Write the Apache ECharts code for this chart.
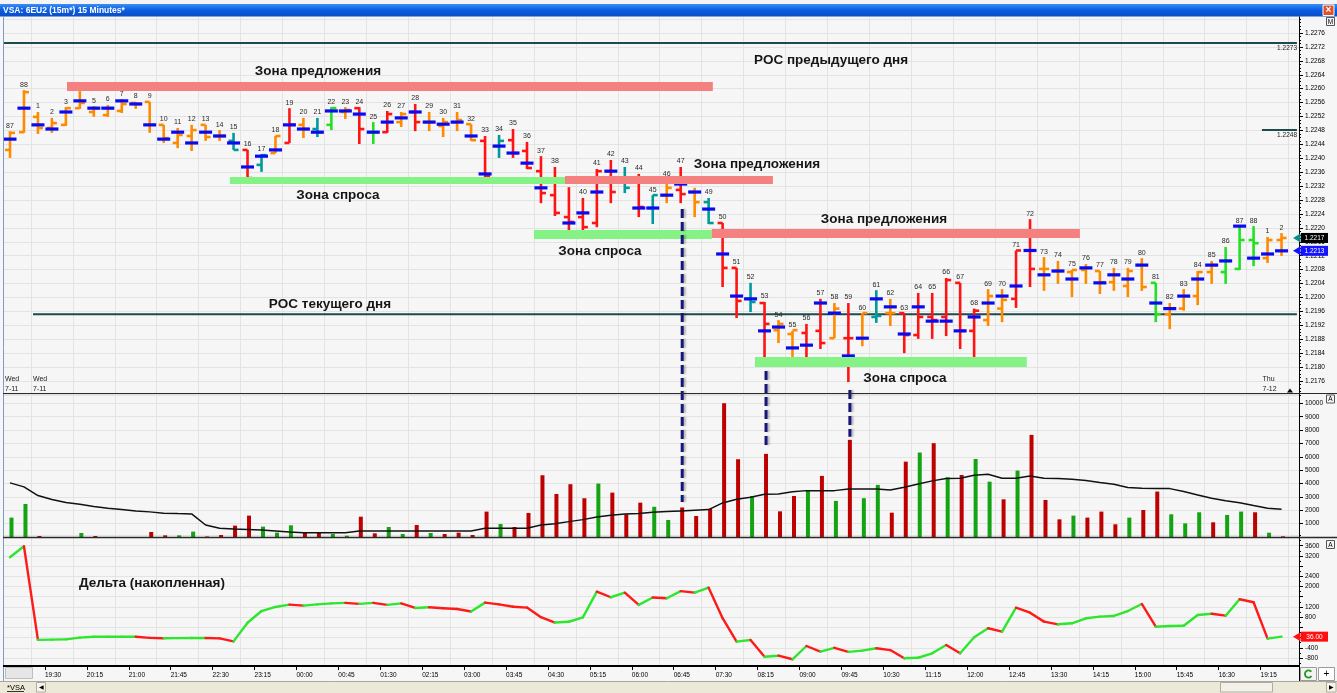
<!DOCTYPE html>
<html>
<head>
<meta charset="utf-8">
<title>VSA: 6EU2 (15m*) 15 Minutes*</title>
<script src="https://cdn.jsdelivr.net/npm/echarts@6/dist/echarts.min.js"></script>
<style>
  html, body { margin: 0; padding: 0; background: #f6f6f6; }
  #chart { width: 1337px; height: 693px; }
</style>
</head>
<body>
<div id="chart"></div>
<script>
// ---- 15-minute bars: session bar numbers, OHLC, per-bar point of control ----
const barNumbers = [87, 88, 1, 2, 3, 4, 5, 6, 7, 8, 9, 10, 11, 12, 13, 14, 15, 16, 17, 18, 19, 20,
  21, 22, 23, 24, 25, 26, 27, 28, 29, 30, 31, 32, 33, 34, 35, 36, 37, 38, 39, 40, 41, 42, 43, 44,
  45, 46, 47, 48, 49, 50, 51, 52, 53, 54, 55, 56, 57, 58, 59, 60, 61, 62, 63, 64, 65, 66, 67, 68,
  69, 70, 71, 72, 73, 74, 75, 76, 77, 78, 79, 80, 81, 82, 83, 84, 85, 86, 87, 88, 1, 2];

const opens = [1.22424, 1.22475, 1.22519, 1.22487, 1.22496, 1.22544, 1.22533, 1.22524, 1.22536, 1.22559,
  1.22562, 1.22496, 1.22444, 1.22464, 1.22496, 1.22464, 1.22450, 1.22424, 1.22381, 1.22415,
  1.22444, 1.22496, 1.22484, 1.22496, 1.22533, 1.22544, 1.22475, 1.22475, 1.22504, 1.22533,
  1.22504, 1.22493, 1.22504, 1.22498, 1.22450, 1.22435, 1.22452, 1.22421, 1.22363, 1.22294,
  1.22231, 1.22231, 1.22214, 1.22363, 1.22335, 1.22335, 1.22257, 1.22294, 1.22309, 1.22303,
  1.22274, 1.22214, 1.22085, 1.21996, 1.21984, 1.21906, 1.21895, 1.21898, 1.21904, 1.21883,
  1.21883, 1.21883, 1.21944, 1.21955, 1.21955, 1.21892, 1.21944, 1.21944, 1.22042, 1.21904,
  1.21935, 1.21968, 1.21996, 1.22135, 1.22082, 1.22076, 1.22073, 1.22079, 1.22076, 1.22044,
  1.22033, 1.22093, 1.22042, 1.21952, 1.21968, 1.22004, 1.22073, 1.22073, 1.22082, 1.22165,
  1.22113, 1.22165];

const highs = [1.22478, 1.22596, 1.22533, 1.22516, 1.22547, 1.22593, 1.22550, 1.22553, 1.22570, 1.22562,
  1.22562, 1.22496, 1.22487, 1.22496, 1.22496, 1.22481, 1.22473, 1.22424, 1.22412, 1.22464,
  1.22544, 1.22516, 1.22516, 1.22547, 1.22547, 1.22547, 1.22504, 1.22536, 1.22533, 1.22556,
  1.22533, 1.22516, 1.22533, 1.22498, 1.22464, 1.22467, 1.22484, 1.22447, 1.22406, 1.22375,
  1.22317, 1.22286, 1.22369, 1.22395, 1.22375, 1.22355, 1.22294, 1.22338, 1.22375, 1.22315,
  1.22286, 1.22214, 1.22085, 1.22042, 1.21987, 1.21935, 1.21904, 1.21924, 1.21996, 1.21984,
  1.21984, 1.21955, 1.22021, 1.21996, 1.21955, 1.22013, 1.22013, 1.22056, 1.22042, 1.21968,
  1.22024, 1.22024, 1.22135, 1.22225, 1.22116, 1.22105, 1.22079, 1.22096, 1.22076, 1.22085,
  1.22085, 1.22113, 1.22042, 1.21984, 1.22024, 1.22076, 1.22105, 1.22145, 1.22205, 1.22205,
  1.22174, 1.22185];

const lows = [1.22401, 1.22473, 1.22470, 1.22473, 1.22493, 1.22542, 1.22519, 1.22519, 1.22530, 1.22542,
  1.22473, 1.22444, 1.22429, 1.22421, 1.22450, 1.22450, 1.22424, 1.22329, 1.22361, 1.22415,
  1.22444, 1.22458, 1.22461, 1.22481, 1.22513, 1.22441, 1.22441, 1.22473, 1.22490, 1.22478,
  1.22478, 1.22461, 1.22478, 1.22450, 1.22340, 1.22401, 1.22401, 1.22369, 1.22271, 1.22234,
  1.22179, 1.22188, 1.22202, 1.22271, 1.22300, 1.22231, 1.22211, 1.22271, 1.22271, 1.22231,
  1.22211, 1.22030, 1.21941, 1.21958, 1.21820, 1.21869, 1.21812, 1.21812, 1.21852, 1.21883,
  1.21757, 1.21860, 1.21927, 1.21918, 1.21840, 1.21881, 1.21881, 1.21889, 1.21852, 1.21829,
  1.21918, 1.21929, 1.21970, 1.22030, 1.22019, 1.22039, 1.22001, 1.22039, 1.22010, 1.22019,
  1.22001, 1.22019, 1.21929, 1.21909, 1.21962, 1.21978, 1.22039, 1.22039, 1.22079, 1.22090,
  1.22099, 1.22119];

const closes = [1.22473, 1.22590, 1.22487, 1.22501, 1.22544, 1.22559, 1.22544, 1.22544, 1.22556, 1.22556,
  1.22496, 1.22458, 1.22467, 1.22481, 1.22461, 1.22464, 1.22424, 1.22343, 1.22409, 1.22464,
  1.22496, 1.22484, 1.22475, 1.22544, 1.22539, 1.22484, 1.22475, 1.22527, 1.22527, 1.22504,
  1.22504, 1.22504, 1.22510, 1.22452, 1.22349, 1.22450, 1.22415, 1.22372, 1.22300, 1.22243,
  1.22217, 1.22202, 1.22363, 1.22303, 1.22315, 1.22260, 1.22294, 1.22315, 1.22297, 1.22274,
  1.22214, 1.22085, 1.21990, 1.21987, 1.21924, 1.21924, 1.21906, 1.21815, 1.21869, 1.21968,
  1.21883, 1.21955, 1.21947, 1.21955, 1.21892, 1.21944, 1.21935, 1.22050, 1.21904, 1.21962,
  1.22004, 1.21993, 1.22135, 1.22082, 1.22082, 1.22076, 1.22079, 1.22085, 1.22044, 1.22065,
  1.22076, 1.22030, 1.21952, 1.21968, 1.22004, 1.22073, 1.22093, 1.22105, 1.22165, 1.22156,
  1.22165, 1.22171];

const pocs = [1.22455, 1.22544, 1.22496, 1.22484, 1.22533, 1.22565, 1.22544, 1.22544, 1.22565, 1.22556,
  1.22496, 1.22455, 1.22475, 1.22444, 1.22475, 1.22464, 1.22444, 1.22375, 1.22406, 1.22424,
  1.22496, 1.22484, 1.22475, 1.22536, 1.22536, 1.22527, 1.22475, 1.22504, 1.22516, 1.22533,
  1.22504, 1.22498, 1.22504, 1.22464, 1.22355, 1.22435, 1.22415, 1.22386, 1.22315, 1.22335,
  1.22214, 1.22243, 1.22303, 1.22363, 1.22335, 1.22257, 1.22257, 1.22294, 1.22326, 1.22303,
  1.22254, 1.22125, 1.22004, 1.21996, 1.21904, 1.21915, 1.21855, 1.21863, 1.21984, 1.21955,
  1.21832, 1.21883, 1.21996, 1.21973, 1.21895, 1.21973, 1.21932, 1.21932, 1.21904, 1.21944,
  1.21984, 1.22004, 1.22033, 1.22135, 1.22065, 1.22076, 1.22053, 1.22085, 1.22042, 1.22065,
  1.22053, 1.22093, 1.21984, 1.21968, 1.22004, 1.22053, 1.22093, 1.22105, 1.22205, 1.22113,
  1.22125, 1.22134];

// VSA bar classes: o = neutral, r = supply, g = demand, t = test
const barClasses = ['o','o','o','o','o','o','o','o','o','o','o','o','o','o','o','o',
  't','r','t','o','r','o','t','g','o','r','g','r','o','r','o','o','o','o','r','t','r','r','r','r',
  'r','r','r','r','t','r','t','o','r','o','t','r','r','t','r','o','o','r','r','o','r','o','t','o',
  'r','r','r','r','r','r','o','o','r','r','o','o','o','o','o','o','o','o','g','o','o','o','o','g',
  'g','g','o','o'];

// ---- volume pane ----
const volumes = [1450, 2470, 75, 0, 0, 300, 75, 0, 0, 0, 375, 125, 125, 400, 40, 150, 850, 1600,
  775, 325, 875, 300, 325, 225, 100, 1520, 275, 750, 225, 900, 300, 225, 325, 150, 1900, 975, 750,
  1800, 4620, 3220, 3950, 2900, 4000, 3320, 1700, 2570, 2260, 1270, 2210, 1570, 2100, 10010, 5820,
  3070, 6220, 1920, 3070, 3450, 4570, 2700, 7270, 2900, 3900, 1820, 5640, 6320, 7020, 4470, 4640,
  5840, 4140, 2820, 4970, 7640, 2770, 1320, 1600, 1450, 1900, 950, 1450, 2020, 3400, 1700, 1020,
  1850, 1100, 1650, 1900, 1850, 320, 50];
const volumeSides = ['g','g','r','r','r','g','r','r','r','r','r','r','g','g','r','r','r','r','g','g',
  'g','r','r','g','g','r','r','g','g','r','g','r','r','r','r','g','r','r','r','r','r','r','g','r',
  'r','r','g','g','r','r','r','r','r','g','r','r','r','g','r','g','r','g','g','r','r','g','r','g',
  'r','g','g','r','g','r','r','r','g','r','r','r','g','r','r','g','g','g','r','g','g','r','g','r'];
const volumeAverage = [4050, 3750, 3100, 2800, 2580, 2450, 2280, 2150, 2050, 1950, 1880, 1780, 1750,
  1730, 900, 650, 600, 560, 520, 450, 380, 320, 320, 320, 320, 450, 450, 450, 450, 450, 450, 450,
  450, 450, 650, 650, 650, 650, 900, 1000, 1150, 1300, 1500, 1620, 1720, 1750, 1850, 1900, 1950,
  2000, 2050, 2550, 2820, 2970, 3200, 3220, 3380, 3470, 3470, 3470, 3600, 3600, 3600, 3520, 3720,
  3970, 4200, 4370, 4400, 4620, 4700, 4400, 4400, 4570, 4400, 4380, 4320, 4220, 4070, 3950, 3700,
  3650, 3620, 3620, 3400, 3150, 2900, 2720, 2570, 2350, 2150, 2070];

// ---- cumulative delta pane ----
const cumulativeDelta = [3150, 3580, -90, -80, -70, 0, 35, 35, 35, 35, -10, -27, -20, -16, -16, -30,
  -150, 580, 1040, 1200, 1290, 1250, 1300, 1340, 1360, 1320, 1360, 1280, 1340, 1160, 1190, 1150,
  1120, 1020, 1370, 1300, 1210, 1175, 800, 590, 620, 790, 1800, 1580, 1760, 1280, 1570, 1540, 1820,
  1760, 1955, 760, -160, -94, -750, -710, -850, -330, -550, -400, -560, -510, -420, -490, -810,
  -790, -615, -290, -615, 10, 365, 230, 1170, 975, 625, 520, 560, 756, 820, 846, 1040, 1316, 427,
  454, 466, 885, 936, 858, 1500, 1383, -40, 36];

// ---- time axis tick labels (every third bar, from the 19:30 bar) ----
const timeTicks = ['19:30', '20:15', '21:00', '21:45', '22:30', '23:15', '00:00', '00:45', '01:30',
  '02:15', '03:00', '03:45', '04:30', '05:15', '06:00', '06:45', '07:30', '08:15', '09:00', '09:45',
  '10:30', '11:15', '12:00', '12:45', '13:30', '14:15', '15:00', '15:45', '16:30', '19:15'];
const sessionStarts = [
  { bar: -0.5, day: 'Wed', date: '7-11' },
  { bar: 1.5, day: 'Wed', date: '7-11' },
  { bar: 89.5, day: 'Thu', date: '7-12' }
];

// ---- hand-drawn annotations (bar index / price bounds) ----
const zones = [
  { kind: 'supply', from: 4.08, to: 50.3, hi: 1.22619, lo: 1.22593 },
  { kind: 'demand', from: 15.74, to: 39.72, hi: 1.22346, lo: 1.22326 },
  { kind: 'supply', from: 39.72, to: 54.6, hi: 1.22349, lo: 1.22326 },
  { kind: 'demand', from: 37.5, to: 50.23, hi: 1.22194, lo: 1.22168 },
  { kind: 'supply', from: 50.23, to: 76.57, hi: 1.22197, lo: 1.22171 },
  { kind: 'demand', from: 53.31, to: 72.77, hi: 1.21829, lo: 1.21800 }
];
const priceLevels = [
  { price: 1.22731, from: -0.5, to: 92.1, tag: '1.2273' },
  { price: 1.21952, from: 1.65, to: 92.1, tag: '' },
  { price: 1.22481, from: 89.6, to: 92.1, tag: '1.2248' }
];
const notes = [
  { pane: 0, text: 'Зона предложения', at: [22.04, 1.22651] },
  { pane: 0, text: 'Зона спроса', at: [23.47, 1.22294] },
  { pane: 0, text: 'Зона предложения', at: [53.46, 1.22384] },
  { pane: 0, text: 'Зона спроса', at: [42.22, 1.22133] },
  { pane: 0, text: 'Зона предложения', at: [62.55, 1.22225] },
  { pane: 0, text: 'Зона спроса', at: [64.05, 1.21768] },
  { pane: 0, text: 'POC предыдущего дня', at: [58.76, 1.22682] },
  { pane: 0, text: 'POC текущего дня', at: [22.9, 1.21981] },
  { pane: 2, text: 'Дельта (накопленная)', at: [10.16, 2139] }
];
const volumeLinks = [
  { bar: 48, price: 1.22254, volume: 2620 },
  { bar: 54, price: 1.21789, volume: 6720 },
  { bar: 60, price: 1.21734, volume: 7510 }
];

// ---- styling ----
const FONT = '"Liberation Sans", Arial, sans-serif';
const CLASS_COLORS = { o: '#ff8a00', r: '#ff1414', g: '#22e022', t: '#009a9a' };
const VOLUME_COLORS = { g: '#13a313', r: '#bd0000' };
const ZONE_COLORS = { supply: '#f48080', demand: '#84f284' };
const GRID_COLOR = '#e3e3e3';
const X_MIN = -0.5, X_MAX = 92.25;

const chart = echarts.init(document.getElementById('chart'), null, { renderer: 'canvas', width: 1337, height: 693 });

function hiddenX(gridIndex) {
  return { type: 'value', gridIndex, min: X_MIN, max: X_MAX, show: false,
    axisLine: { onZero: false }, splitLine: { show: false } };
}
function rightAxisBase(gridIndex) {
  return {
    type: 'value', gridIndex, position: 'right',
    axisLine: { show: true, onZero: false, lineStyle: { color: '#000', width: 1 } },
    axisTick: { show: true, length: 4, lineStyle: { color: '#000' } },
    minorTick: { show: false },
    axisLabel: { fontSize: 6.5, color: '#000', margin: 6, fontFamily: FONT },
    splitLine: { show: true, lineStyle: { color: GRID_COLOR, width: 1 } }
  };
}
// finer tick marks only (no labels, no grid lines) sharing a pane's value range
function fineTicks(gridIndex, min, max, interval) {
  return {
    type: 'value', gridIndex, position: 'right', min, max, interval,
    axisLine: { show: false, onZero: false },
    axisTick: { show: true, length: 2, lineStyle: { color: '#000' } },
    axisLabel: { show: false },
    splitLine: { show: false }
  };
}

const barData = barNumbers.map((n, i) => [i, opens[i], highs[i], lows[i], closes[i], pocs[i]]);
const volumeData = volumes.map((v, i) => [i, v]);
const averageData = volumeAverage.map((v, i) => [i, v]);
const deltaData = cumulativeDelta.map((v, i) => [i, v, i > 0 ? cumulativeDelta[i - 1] : v]);
const zoneData = zones.map(z => [z.from, z.to, z.hi, z.lo]);
const levelData = priceLevels.map(l => [l.from, l.to, l.price]);

const option = {
  animation: false,
  backgroundColor: '#f6f6f6',
  textStyle: { fontFamily: FONT },
  grid: [
    { left: 3, top: 19.08, width: 1296, height: 375.82, outerBoundsMode: 'none' },
    { left: 3, top: 394, width: 1296, height: 143, outerBoundsMode: 'none' },
    { left: 3, top: 535.5, width: 1296, height: 132.7, outerBoundsMode: 'none' },
    { left: 3, top: 665, width: 1296, height: 1, outerBoundsMode: 'none' },
    { left: 3 - 1296 / (X_MAX - X_MIN), top: 17, width: 1296 + 1296 / (X_MAX - X_MIN), height: 649, outerBoundsMode: 'none' }
  ],
  xAxis: [
    hiddenX(0), hiddenX(1), hiddenX(2),
    {
      type: 'value', gridIndex: 3, min: X_MIN, max: X_MAX, interval: 3, position: 'bottom', z: 6,
      axisLine: { show: false, onZero: false },
      axisTick: { show: true, length: 4, lineStyle: { color: '#000' } },
      splitLine: { show: false },
      axisLabel: {
        show: true, align: 'left', margin: 6, fontSize: 6.5, color: '#000', fontFamily: FONT,
        showMaxLabel: false,
        formatter: v => {
          const k = Math.round(v + 0.5);
          if (k <= 0 || k % 3 !== 0) return '';
          return timeTicks[k / 3 - 1] || '';
        }
      }
    },
    {
      type: 'value', gridIndex: 4, min: X_MIN - 1, max: X_MAX, interval: 3,
      axisLine: { show: false, onZero: false }, axisTick: { show: false }, axisLabel: { show: false },
      splitLine: { show: true, lineStyle: { color: GRID_COLOR, width: 1 } }
    }
  ],
  yAxis: [
    Object.assign(rightAxisBase(0), {
      min: 1.2172, max: 1.2280, interval: 0.0004,
      axisLabel: {
        fontSize: 6.5, color: '#000', margin: 6, fontFamily: FONT, showMinLabel: false, showMaxLabel: false,
        formatter: v => (v > 1.22775 || v < 1.21745) ? '' : v.toFixed(4)
      }
    }),
    Object.assign(rightAxisBase(1), {
      min: 0, max: 10700, interval: 1000,
      axisLabel: {
        fontSize: 6.5, color: '#000', margin: 6, fontFamily: FONT, showMaxLabel: false,
        formatter: v => (v > 0 && v <= 10000) ? String(v) : ''
      }
    }),
    Object.assign(rightAxisBase(2), {
      min: -1200, max: 4000, interval: 400,
      axisLabel: {
        fontSize: 6.5, color: '#000', margin: 6, fontFamily: FONT, showMinLabel: false, showMaxLabel: false,
        formatter: v => [3600, 3200, 2400, 2000, 1200, 800, -400, -800].includes(Math.round(v)) ? String(Math.round(v)) : ''
      }
    }),
    { type: 'value', gridIndex: 3, min: 0, max: 1, show: false, axisLine: { onZero: false }, splitLine: { show: false } },
    { type: 'value', gridIndex: 4, min: 0, max: 1, show: false, axisLine: { onZero: false }, splitLine: { show: false } },
    fineTicks(0, 1.2172, 1.2280, 0.0001),
    fineTicks(2, -1200, 4000, 200)
  ],
  series: [
    {
      // day POC levels
      type: 'custom', name: 'levels', xAxisIndex: 0, yAxisIndex: 0, z: 3, silent: true,
      data: levelData,
      renderItem: (params, api) => {
        const a = api.coord([api.value(0), api.value(2)]);
        const b = api.coord([api.value(1), api.value(2)]);
        return { type: 'line', shape: { x1: a[0], y1: a[1], x2: b[0], y2: b[1] },
          style: { stroke: '#1d4a4a', lineWidth: 2 } };
      }
    },
    {
      // OHLC bars with per-bar POC dash and session bar number
      type: 'custom', name: 'bars', xAxisIndex: 0, yAxisIndex: 0, z: 5, silent: true,
      data: barData,
      renderItem: (params, api) => {
        const i = api.value(0);
        const o = api.coord([i, api.value(1)]);
        const h = api.coord([i, api.value(2)]);
        const l = api.coord([i, api.value(3)]);
        const c = api.coord([i, api.value(4)]);
        const p = api.coord([i, api.value(5)]);
        const col = CLASS_COLORS[barClasses[params.dataIndex]];
        const x = h[0];
        const w = 2.6;
        return {
          type: 'group',
          children: [
            { type: 'line', shape: { x1: x, y1: h[1], x2: x, y2: l[1] }, style: { stroke: col, lineWidth: w } },
            { type: 'line', shape: { x1: x - 5, y1: o[1], x2: x, y2: o[1] }, style: { stroke: col, lineWidth: w } },
            { type: 'line', shape: { x1: x, y1: c[1], x2: x + 5, y2: c[1] }, style: { stroke: col, lineWidth: w } },
            { type: 'rect', shape: { x: x - 6.5, y: p[1] - 1.6, width: 13, height: 3.2 }, style: { fill: '#0a0af2' } },
            { type: 'text', x: x, y: h[1] - 2,
              style: { text: String(barNumbers[params.dataIndex]), fill: '#2a2a2a',
                font: '7px ' + FONT, align: 'center', verticalAlign: 'bottom' } }
          ]
        };
      }
    },
    {
      // supply / demand zones, multiplied over the bars
      type: 'custom', name: 'zones', xAxisIndex: 0, yAxisIndex: 0, z: 8, silent: true,
      data: zoneData,
      renderItem: (params, api) => {
        const a = api.coord([api.value(0), api.value(2)]);
        const b = api.coord([api.value(1), api.value(3)]);
        return { type: 'rect', shape: { x: a[0], y: a[1], width: b[0] - a[0], height: b[1] - a[1] },
          style: { fill: ZONE_COLORS[zones[params.dataIndex].kind], blend: 'multiply' } };
      }
    },
    {
      type: 'custom', name: 'volume', xAxisIndex: 1, yAxisIndex: 1, z: 4, silent: true,
      data: volumeData,
      renderItem: (params, api) => {
        const i = api.value(0);
        const top = api.coord([i, api.value(1)]);
        const base = api.coord([i, 0]);
        return { type: 'rect', shape: { x: top[0] - 0.5, y: top[1], width: 4, height: base[1] - top[1] },
          style: { fill: VOLUME_COLORS[volumeSides[params.dataIndex]] } };
      }
    },
    {
      type: 'line', name: 'volume average', xAxisIndex: 1, yAxisIndex: 1, z: 5, silent: true,
      data: averageData, symbol: 'none',
      lineStyle: { color: '#111', width: 1.5 }
    },
    {
      // cumulative delta, green while rising and red while falling
      type: 'custom', name: 'delta', xAxisIndex: 2, yAxisIndex: 2, z: 5, silent: true,
      data: deltaData,
      renderItem: (params, api) => {
        const i = api.value(0);
        if (i === 0) return null;
        const a = api.coord([i - 1, api.value(2)]);
        const b = api.coord([i, api.value(1)]);
        const up = api.value(1) >= api.value(2);
        return { type: 'line', shape: { x1: a[0], y1: a[1], x2: b[0], y2: b[1] },
          style: { stroke: up ? '#2ee62e' : '#ff1a1a', lineWidth: 2.4, lineCap: 'round' } };
      }
    }
  ]
};

chart.setOption(option);

// ---- overlay: window chrome, notes, value boxes ----
function buildGraphics() {
  const P = (grid, x, y) => chart.convertToPixel({ gridIndex: grid }, [x, y]);
  const g = [];
  const txt = (x, y, text, font, fill, align, vAlign, z) => ({
    type: 'text', x, y, z: z || 60, silent: true,
    style: { text, font, fill, align: align || 'left', verticalAlign: vAlign || 'middle' }
  });
  const line = (x1, y1, x2, y2, stroke, w, z, extra) => ({
    type: 'line', z: z || 50, silent: true,
    shape: { x1, y1, x2, y2 }, style: Object.assign({ stroke, lineWidth: w }, extra || {})
  });
  const rect = (x, y, w, h, fill, stroke, z) => ({
    type: 'rect', z: z || 50, silent: true,
    shape: { x, y, width: w, height: h }, style: { fill, stroke: stroke || null, lineWidth: 1 }
  });

  // title bar
  g.push(rect(0, 0, 1337, 4, '#f4f4f4', null, 40));
  g.push({ type: 'rect', z: 41, silent: true, shape: { x: 0, y: 4, width: 1337, height: 12.5 },
    style: { fill: { type: 'linear', x: 0, y: 0, x2: 0, y2: 1,
      colorStops: [{ offset: 0, color: '#3d8ef6' }, { offset: 0.45, color: '#0b5fe3' }, { offset: 1, color: '#0a4cc8' }] } } });
  g.push(txt(3, 10.5, 'VSA: 6EU2 (15m*) 15 Minutes*', 'bold 8.5px ' + FONT, '#ffffff', 'left', 'middle', 42));
  g.push(rect(1323, 5, 11, 10.5, '#e0522a', '#ffffff', 42));
  g.push(txt(1328.5, 10.5, '×', 'bold 10px ' + FONT, '#ffffff', 'center', 'middle', 43));

  // frame and pane separators
  g.push(line(3.5, 16.5, 3.5, 681, '#7d9ccc', 1, 45));
  g.push(line(1299.5, 16.5, 1299.5, 681, '#000', 1, 45));
  g.push(line(3, 393.5, 1337, 393.5, '#2a2a2a', 1.2, 45));
  g.push(line(3, 537.5, 1337, 537.5, '#2a2a2a', 1.5, 45));

  // time axis strip
  g.push(rect(4, 666, 1295.5, 15, '#f6f6f6', null, 2));
  g.push(line(3, 666, 1299, 666, '#000', 2, 45));
  g.push(rect(5.5, 667.5, 27, 11, '#e6e6e6', '#bdbdbd', 46));

  // bottom strip with tab and scroller
  g.push(rect(0, 681, 1337, 12, '#ece9d8', null, 40));
  g.push(line(0, 681.5, 1337, 681.5, '#a9a69a', 1, 41));
  g.push(txt(7, 687.5, '*VSA', '7.5px ' + FONT, '#000', 'left', 'middle', 42));
  g.push(line(7, 691.5, 24, 691.5, '#000', 0.8, 42));
  g.push(rect(36.5, 682.5, 9, 9.5, '#f5f4ee', '#b0ad9f', 42));
  g.push(txt(41, 687.5, '◀', '6px ' + FONT, '#000', 'center', 'middle', 43));
  g.push(rect(1220.5, 682.5, 52, 9.5, '#f3f2ea', '#b0ad9f', 42));
  g.push(rect(1326.5, 682.5, 9.5, 9.5, '#f5f4ee', '#b0ad9f', 42));
  g.push(txt(1331.2, 687.5, '▶', '6px ' + FONT, '#000', 'center', 'middle', 43));

  // bottom-right buttons
  g.push(rect(1300.5, 667.5, 16, 13, '#f3f3f3', '#9c9c9c', 42));
  g.push({ type: 'arc', z: 43, silent: true, shape: { cx: 1308.5, cy: 674, r: 3.6, startAngle: 0.6, endAngle: 5.6 },
    style: { stroke: '#1f9a1f', lineWidth: 1.8, fill: null } });
  g.push(rect(1318.5, 667.5, 16, 13, '#ffffff', '#9c9c9c', 42));
  g.push(txt(1326.5, 674, '+', '10px ' + FONT, '#000', 'center', 'middle', 43));

  // pane badges
  [[17.5, 'M'], [395, 'A'], [540.5, 'A']].forEach(([y, t]) => {
    g.push(rect(1326.5, y, 8, 8, '#f6f6f6', '#555', 46));
    g.push(txt(1330.5, y + 4.3, t, '6.5px ' + FONT, '#000', 'center', 'middle', 47));
  });

  // session labels
  sessionStarts.forEach(s => {
    const x = P(0, s.bar, 1.2176)[0] + 2;
    g.push(txt(x, 379.5, s.day, '7px ' + FONT, '#1a1a1a', 'left', 'middle', 30));
    g.push(txt(x, 389, s.date, '7px ' + FONT, '#1a1a1a', 'left', 'middle', 30));
  });
  g.push({ type: 'polygon', z: 30, silent: true, shape: { points: [[1287, 392.5], [1293, 392.5], [1290, 388.5]] }, style: { fill: '#000' } });

  // level value tags
  priceLevels.forEach(l => {
    if (!l.tag) return;
    const p = P(0, l.to, l.price);
    g.push(txt(1297, p[1] + 5, l.tag, '6.5px ' + FONT, '#1a1a1a', 'right', 'middle', 30));
  });

  // notes
  notes.forEach(n => {
    const p = P(n.pane, n.at[0], n.at[1]);
    g.push(txt(p[0], p[1], n.text, 'bold 13.5px ' + FONT, '#161616', 'center', 'middle', 30));
  });

  // dashed links from price action to the volume bar
  volumeLinks.forEach(d => {
    const a = P(0, d.bar, d.price);
    const b = P(1, d.bar, d.volume);
    g.push(line(a[0] + 1.5, a[1], b[0] + 1.5, b[1], '#15157a', 3, 20,
      { lineDash: [9, 4], shadowColor: 'rgba(0,0,0,0.28)', shadowOffsetX: 2, shadowBlur: 2 }));
  });

  // last price / last POC / last delta boxes on the value axes
  const valueBox = (y, text, fill, arrow) => {
    g.push({ type: 'polygon', z: 55, silent: true,
      shape: { points: [[1293, y], [1300.5, y - 4.5], [1300.5, y + 4.5]] }, style: { fill: arrow } });
    g.push(rect(1301, y - 5, 27, 10, fill, null, 55));
    g.push(txt(1314.5, y + 0.3, text, '6.5px ' + FONT, '#ffffff', 'center', 'middle', 56));
  };
  const last = barNumbers.length - 1;
  valueBox(P(0, last, closes[last])[1], closes[last].toFixed(4), '#000000', '#0a8c8c');
  valueBox(P(0, last, pocs[last])[1], pocs[last].toFixed(4), '#1414ff', '#1414ff');
  const dl = cumulativeDelta[cumulativeDelta.length - 1];
  valueBox(P(2, last, dl)[1], dl.toFixed(2), '#ff1010', '#ff1010');

  chart.setOption({ graphic: g });
}
buildGraphics();
</script>
</body>
</html>
